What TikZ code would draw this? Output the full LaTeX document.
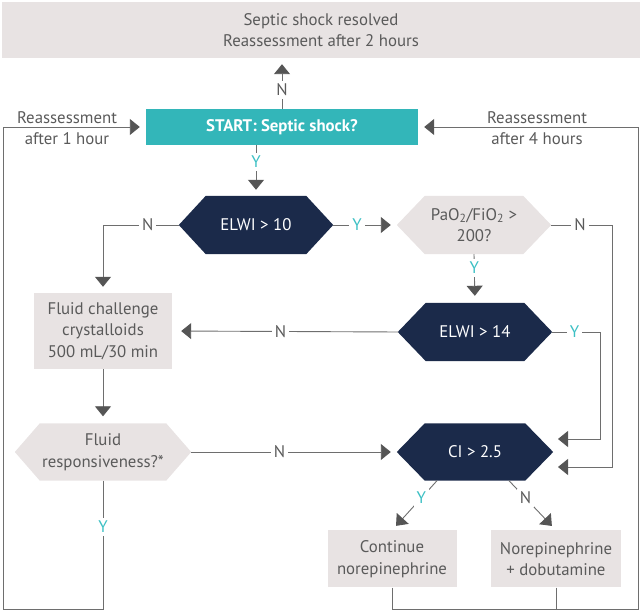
\documentclass[tikz,border=0pt]{standalone}
\usepackage{fontspec}
\setmainfont{PT Sans}
\usetikzlibrary{arrows.meta,backgrounds,calc}

\definecolor{cteal}{HTML}{33B6B9}
\definecolor{cnavy}{HTML}{1B2A4A}
\definecolor{cbox}{HTML}{E8E3E3}
\definecolor{cline}{HTML}{6E6E6E}
\definecolor{carrow}{HTML}{555555}
\definecolor{ctext}{HTML}{5A5A5A}
\definecolor{cyes}{HTML}{3CC0C4}

\newcommand\fs{\fontsize{16.8}{21.5}\selectfont}

% hexagon with pointed left and right ends, filled behind node #1
\newcommand\hexshape[3]{%
  \fill[#3] (#1.west) -- ([xshift=#2]#1.north west) -- ([xshift=-#2]#1.north east)
    -- (#1.east) -- ([xshift=-#2]#1.south east) -- ([xshift=#2]#1.south west) -- cycle;}

\tikzset{
  box/.style={fill=cbox, text=ctext, align=center, inner sep=0pt, font=\fs},
  hexdark/.style={text=white, align=center, inner sep=0pt, font=\fs},
  hexlight/.style={text=ctext, align=center, inner sep=0pt, font=\fs},
  note/.style={text=ctext, align=center, inner sep=0pt, font=\fs},
  conn/.style={draw=cline, line width=0.9pt},
  arr/.style={conn, -{Triangle[length=10pt,width=16pt,color=carrow]}, shorten >=6pt},
  lab/.style={fill=white, text=ctext, inner sep=3pt, font=\fs},
  ylab/.style={lab, text=cyes},
}

\begin{document}
\begin{tikzpicture}[x=1pt, y=-1pt]
\useasboundingbox (0,0) rectangle (641,612);

% boxes
\node[box, minimum width=638pt, minimum height=56pt] (top) at (321,30)
  {Septic shock resolved\\Reassessment after 2 hours};
\node[fill=cteal, text=white, font=\fs\bfseries, minimum width=272pt, minimum height=36pt, inner sep=0pt]
  (start) at (282,127) {START: Septic shock?};
\node[hexdark, minimum width=154pt, minimum height=58pt] (elwi10) at (256,225) {ELWI > 10};
\node[hexlight, minimum width=154pt, minimum height=58pt] (pao2) at (474,225)
  {PaO\textsubscript{2}/FiO\textsubscript{2} >\\200?};
\node[box, minimum width=138pt, minimum height=76pt] (fc) at (103,331)
  {Fluid challenge\\crystalloids\\500 mL/30 min};
\node[hexdark, minimum width=154pt, minimum height=58pt] (elwi14) at (475,332) {ELWI > 14};
\node[hexlight, minimum width=176pt, minimum height=57pt] (fr) at (103,452)
  {Fluid\\responsiveness?*};
\node[hexdark, minimum width=156pt, minimum height=57pt] (ci) at (475,452) {CI > 2.5};
\node[box, minimum width=129pt, minimum height=57pt] (cont) at (392,559)
  {Continue\\norepinephrine};
\node[box, minimum width=130pt, minimum height=57pt] (nd) at (556,559)
  {Norepinephrine\\+ dobutamine};

\node[note] (re1) at (67,128) {Reassessment\\after 1 hour};
\node[note] (re4) at (537,128) {Reassessment\\after 4 hours};

\begin{scope}[on background layer]
  \hexshape{elwi10}{27pt}{cnavy}
  \hexshape{pao2}{28pt}{cbox}
  \hexshape{elwi14}{28pt}{cnavy}
  \hexshape{fr}{25pt}{cbox}
  \hexshape{ci}{28pt}{cnavy}
\end{scope}

% loop corners and arrow ends
\coordinate (bl) at (3,609);
\coordinate (br) at (638,609);
\coordinate (ciA) at (558,439);
\coordinate (ciB) at (558,467);

% connectors
\draw[arr] (start.north) -- node[lab, pos=0.37] {N} (start.north |- top.south);
\draw[arr] (elwi10.north |- start.south) -- node[ylab, pos=0.33] {Y} (elwi10.north);
\draw[arr] (elwi10.east) -- node[ylab, pos=0.375] {Y} (pao2.west);
\draw[arr] (elwi10.west) -- node[lab, pos=0.41] {N} (fc.north |- elwi10.west) -- (fc.north);
\draw[arr, shorten >=7pt] (pao2.south) -- node[ylab, pos=0.28] {Y} (elwi14.north);
\draw[arr, shorten >=9pt] (elwi14.west) -- node[lab, pos=0.52] {N} (fc.east);
\draw[arr, shorten >=7pt] (fc.south) -- (fr.north);
\draw[arr] (fr.east) -- node[lab, pos=0.43] {N} (ci.west);
\draw[arr, shorten >=0pt] (elwi14.east) -- node[ylab, pos=0.47] {Y} (600,332) |- (ciA);
\draw[arr, shorten >=0pt] (pao2.east) -- node[lab, pos=0.475] {N} (612,225) |- (ciB);
\draw[arr] ([xshift=-38pt]ci.south) -- node[ylab, pos=0.35] {Y} (cont.north);
\draw[arr] ([xshift=34pt]ci.south) -- node[lab, pos=0.35] {N} (nd.north);
\draw[arr] (fr.south) -- node[ylab, pos=0.36] {Y} (fr.south |- bl) -- (bl) |- (start.west);
\draw[arr] (cont.south) -- (cont.south |- br) -- (br) |- (start.east);
\draw[conn] (nd.south) -- (nd.south |- br);
\end{tikzpicture}
\end{document}
